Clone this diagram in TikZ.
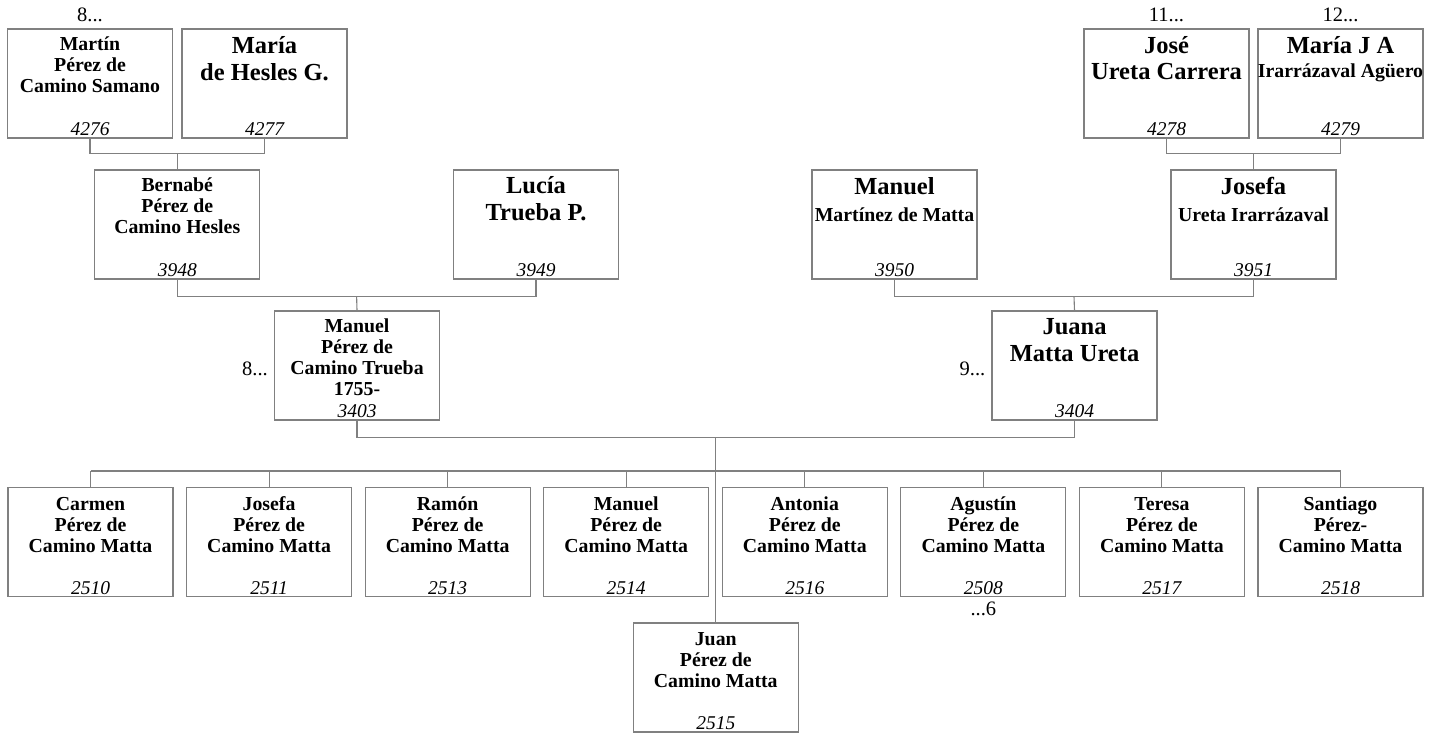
\documentclass[tikz,border=0pt]{standalone}
\usepackage{fontspec}
\setmainfont{Liberation Serif}
\usetikzlibrary{calc}
\definecolor{linegray}{RGB}{128,128,128}
\tikzset{
  pbox/.style={draw=linegray, line width=1.1pt, minimum width=165pt, minimum height=109pt, inner sep=0pt},
  ptext/.style={anchor=north, align=center, inner sep=0pt, font=\fontsize{19.8}{21}\selectfont\bfseries},
  pnum/.style={anchor=base, inner sep=0pt, font=\fontsize{19.5}{21}\selectfont\itshape},
  plabel/.style={inner sep=0pt, font=\fontsize{20.5}{21}\selectfont},
  conn/.style={draw=linegray, line width=1.1pt},
}
\newcommand\famL[1]{{\fontsize{24.5}{21}\selectfont #1}}
\newcommand\famperson[6]{%
  \node[pbox] (#1) at (#2,#3) {};
  \node[ptext] (#1t) at ([yshift=-#4pt]#1.north) {\rule{0pt}{20pt}#5};
  \node[pnum] (#1n) at ([yshift=3pt]#1.south) {#6};
}
\begin{document}
\begin{tikzpicture}[x=1pt,y=-1pt]
\useasboundingbox (0,0) rectangle (1432,733);
% generation 1
\famperson{p4276}{90}{83.5}{2}{Martín\\Pérez de\\Camino Samano}{4276}
\famperson{p4277}{264.5}{83.5}{4.5}{\famL{María}\\[6pt]\famL{de Hesles G.}}{4277}
\famperson{p4278}{1166.5}{83.5}{4.5}{\famL{José}\\[5pt]\famL{Ureta Carrera}}{4278}
\famperson{p4279}{1340.5}{83.5}{4.5}{\famL{María J A}\\[3pt]Irarrázaval Agüero}{4279}
% generation 2
\famperson{p3948}{177.25}{224.5}{2}{Bernabé\\Pérez de\\Camino Hesles}{3948}
\famperson{p3949}{536}{224.5}{4}{\famL{Lucía}\\[6pt]\famL{Trueba P.}}{3949}
\famperson{p3950}{894.5}{224.5}{5}{\famL{Manuel}\\[6pt]Martínez de Matta}{3950}
\famperson{p3951}{1253.5}{224.5}{5}{\famL{Josefa}\\[6pt]Ureta Irarrázaval}{3951}
% generation 3
\famperson{p3403}{357}{365.5}{2}{Manuel\\Pérez de\\Camino Trueba\\1755-}{3403}
\famperson{p3404}{1074.5}{365.5}{4}{\famL{Juana}\\[6pt]\famL{Matta Ureta}}{3404}
% children
\famperson{k1}{90.5}{542}{3}{Carmen\\Pérez de\\Camino Matta}{2510}
\famperson{k2}{269.07}{542}{3}{Josefa\\Pérez de\\Camino Matta}{2511}
\famperson{k3}{447.64}{542}{3}{Ramón\\Pérez de\\Camino Matta}{2513}
\famperson{k4}{626.21}{542}{3}{Manuel\\Pérez de\\Camino Matta}{2514}
\famperson{k5}{804.79}{542}{3}{Antonia\\Pérez de\\Camino Matta}{2516}
\famperson{k6}{983.36}{542}{3}{Agustín\\Pérez de\\Camino Matta}{2508}
\famperson{k7}{1161.93}{542}{3}{Teresa\\Pérez de\\Camino Matta}{2517}
\famperson{k8}{1340.5}{542}{3}{Santiago\\Pérez-\\Camino Matta}{2518}
\famperson{p2515}{715.75}{677.5}{3}{Juan\\Pérez de\\Camino Matta}{2515}
% continuation labels
\node[plabel, anchor=base] (l4276) at ([yshift=7pt]p4276.north) {8...};
\node[plabel, anchor=base] (l4278) at ([yshift=7pt]p4278.north) {11...};
\node[plabel, anchor=base] (l4279) at ([yshift=7pt]p4279.north) {12...};
\node[plabel, anchor=base east] (l3403) at ([xshift=-6pt,yshift=-9.5pt]p3403.west) {8...};
\node[plabel, anchor=base east] (l3404) at ([xshift=-6pt,yshift=-9.5pt]p3404.west) {9...};
\node[plabel, anchor=base] (l2508) at ([yshift=-18pt]k6.south) {...6};
% connectors
\coordinate (c1) at ($(p4276.south)!0.5!(p4277.south)+(0,15)$);
\draw[conn] (p4276.south) -- ++(0,15) -| (p4277.south);
\draw[conn] (c1) -- (p3948.north);
\coordinate (c2) at ($(p4278.south)!0.5!(p4279.south)+(0,15)$);
\draw[conn] (p4278.south) -- ++(0,15) -| (p4279.south);
\draw[conn] (c2) -- (p3951.north);
\coordinate (c3) at ($(p3948.south)!0.5!(p3949.south)+(0,17)$);
\draw[conn] (p3948.south) -- ++(0,17) -| (p3949.south);
\draw[conn] (c3) -- (p3403.north);
\coordinate (c4) at ($(p3950.south)!0.5!(p3951.south)+(0,17)$);
\draw[conn] (p3950.south) -- ++(0,17) -| (p3951.south);
\draw[conn] (c4) -- (p3404.north);
\coordinate (c5) at ($(p3403.south)!0.5!(p3404.south)+(0,17)$);
\draw[conn] (p3403.south) -- ++(0,17) -| (p3404.south);
\draw[conn] (c5) -- (p2515.north);
\coordinate (cb1) at ($(k1.north)+(0,-16)$);
\coordinate (cb8) at ($(k8.north)+(0,-16)$);
\draw[conn] (cb1) -- (cb8);
\foreach \k in {k1,k2,k3,k4,k5,k6,k7,k8}{
  \draw[conn] (\k.north) -- ++(0,-16);
}
\end{tikzpicture}
\end{document}
